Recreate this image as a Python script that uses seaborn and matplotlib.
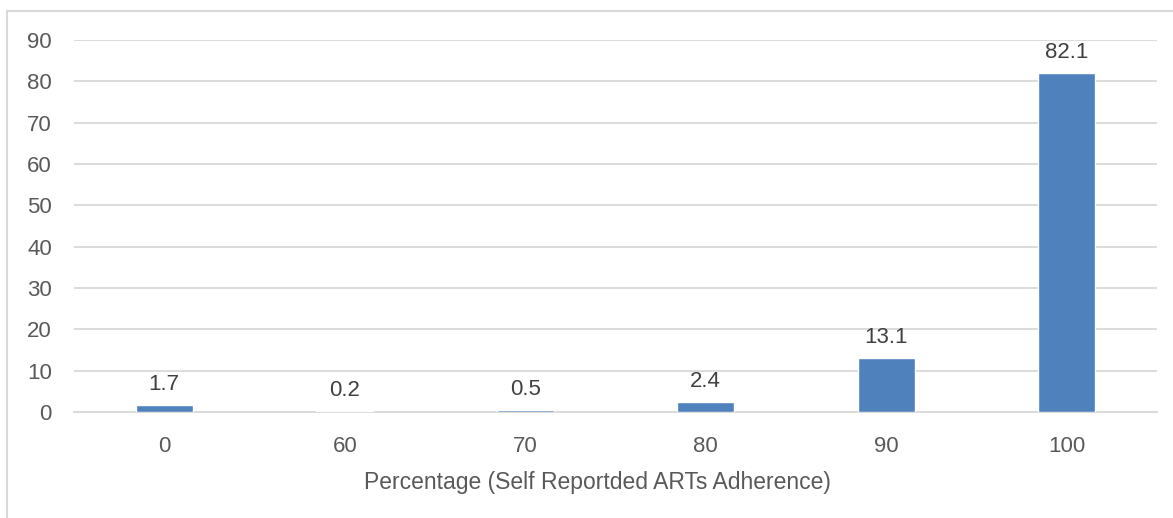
import matplotlib
matplotlib.use("Agg")
import matplotlib.pyplot as plt
from matplotlib.lines import Line2D
import seaborn as sns
import pandas as pd

# Self-reported ART adherence distribution (% of respondents)
adherence_levels = ["0", "60", "70", "80", "90", "100"]
share_percent = [1.7, 0.2, 0.5, 2.4, 13.1, 82.1]
y_ticks = [0, 10, 20, 30, 40, 50, 60, 70, 80, 90]
x_title = "Percentage (Self Reportded ARTs Adherence)"

sns.set_theme(style="white")
plt.rcParams["font.family"] = ["Liberation Sans", "DejaVu Sans"]

text_color = "#595959"
grid_color = "#D9D9D9"
bar_color = "#4F81BD"

df = pd.DataFrame({"level": adherence_levels, "share": share_percent})

W, H = 1173, 518
fig = plt.figure(figsize=(W / 100, H / 100), dpi=100)
ax = fig.add_axes([74 / W, (H - 412) / H, (1157 - 74) / W, (412 - 40) / H])

sns.barplot(data=df, x="level", y="share", order=adherence_levels,
            color=bar_color, saturation=1, width=0.315, ax=ax, zorder=3)

ax.set_ylim(0, 90)
ax.set_yticks(y_ticks)
ax.set_xlim(-0.5, len(adherence_levels) - 0.5)
ax.yaxis.grid(True, color=grid_color, linewidth=1.3, zorder=0)
ax.xaxis.grid(False)
for side in ["top", "right", "left"]:
    ax.spines[side].set_visible(False)
ax.spines["bottom"].set_color(grid_color)
ax.spines["bottom"].set_linewidth(1.3)

ax.tick_params(axis="both", length=0, labelsize=16, labelcolor=text_color)
ax.tick_params(axis="y", pad=16)
ax.tick_params(axis="x", pad=17)
ax.set_ylabel("")
ax.set_xlabel(x_title, fontsize=16.5, color=text_color, labelpad=10)
ax.xaxis.label.set_x(0.483)

for patch, val in zip(ax.patches, share_percent):
    ax.annotate(f"{val}", (patch.get_x() + patch.get_width() / 2, val),
                xytext=(0, 7), textcoords="offset points",
                ha="center", va="bottom", fontsize=16, color="#404040")

# chart frame (left and top edges)
fig.add_artist(Line2D([7 / W, 7 / W], [0, (H - 11) / H], transform=fig.transFigure,
                      color=grid_color, linewidth=1.5))
fig.add_artist(Line2D([7 / W, 1], [(H - 11) / H, (H - 11) / H], transform=fig.transFigure,
                      color=grid_color, linewidth=1.5))

fig.savefig("out.png", dpi=100, facecolor="white")
